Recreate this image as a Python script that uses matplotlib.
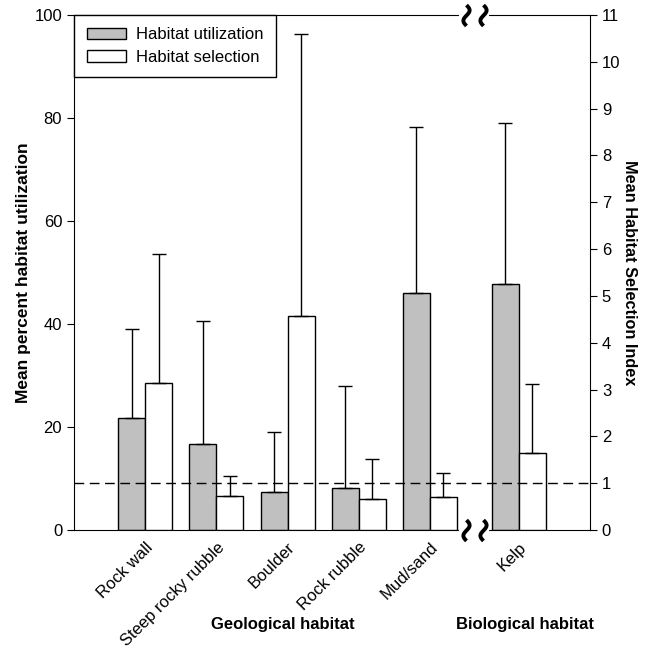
import numpy as np
import matplotlib
matplotlib.use("Agg")
import matplotlib.pyplot as plt
import matplotlib.transforms as mtransforms
from matplotlib.path import Path

plt.rcParams["font.family"] = ["Liberation Sans", "DejaVu Sans"]

categories = ["Rock wall", "Steep rocky rubble", "Boulder", "Rock rubble", "Mud/sand", "Kelp"]
positions = [0, 1, 2, 3, 4, 5.25]          # kelp sits past the axis break
util_mean = [21.7, 16.6, 7.3, 8.2, 46.1, 47.7]
util_err = [17.3, 24.0, 11.7, 19.7, 32.1, 31.3]
sel_mean = [3.15, 0.73, 4.57, 0.66, 0.71, 1.65]
sel_err = [2.75, 0.42, 6.02, 0.86, 0.50, 1.46]

GRAY = "#c0c0c0"
W = 0.38

fig = plt.figure(figsize=(6.47, 6.51), dpi=100)
ax = fig.add_axes([0.1144, 0.1859, 0.7976, 0.7911])
ax2 = ax.twinx()

x = np.array(positions)
ekw = dict(ecolor="black", elinewidth=1.0, capthick=1.0)
ax.bar(x - W / 2, util_mean, W, color=GRAY, edgecolor="black", lw=1.0,
       yerr=[np.zeros(len(x)), util_err], capsize=5, error_kw=ekw, label="Habitat utilization")
ax2.bar(x + W / 2, sel_mean, W, color="white", edgecolor="black", lw=1.0,
        yerr=[np.zeros(len(x)), sel_err], capsize=5, error_kw=ekw, label="Habitat selection")
ax2.axhline(1, color="black", lw=1.0, ls=(0, (7, 4)), zorder=4)

ax.set_xlim(-1, 6.25)
ax.set_ylim(0, 100)
ax2.set_ylim(0, 11)
ax.set_yticks(range(0, 101, 20))
ax2.set_yticks(range(0, 12))
ax.set_xticks(positions)
ax.set_xticklabels(categories, rotation=45, ha="right", va="top", rotation_mode="anchor", fontsize=12)
ax.tick_params(axis="x", length=0, pad=7)
ax.tick_params(axis="y", labelsize=12, direction="out", length=5)
ax2.tick_params(axis="y", labelsize=12, direction="out", length=5)

for s in ("top", "bottom", "left"):
    ax2.spines[s].set_visible(False)
ax.spines["right"].set_visible(False)

ax.set_ylabel("Mean percent habitat utilization", fontsize=12.5, fontweight="bold", labelpad=2.5)
ax2.set_ylabel("Mean Habitat Selection Index", fontsize=11.7, fontweight="bold", rotation=270, labelpad=12)

# axis break marks on the top and bottom spines
trans = mtransforms.blended_transform_factory(ax.transData, ax.transAxes)
t = np.linspace(-1, 1, 30)
squig = Path(np.column_stack([0.3 * np.sin(np.pi * t), t]))
for yy in (0, 1):
    ax.plot([4.44, 4.80], [yy, yy], color="white", lw=3, transform=trans, clip_on=False, zorder=5)
    ax.plot([4.50, 4.74], [yy, yy], ls="none", marker=squig, ms=15, mew=2.8, mec="black",
            mfc="none", transform=trans, clip_on=False, zorder=6)

h1, l1 = ax.get_legend_handles_labels()
h2, l2 = ax2.get_legend_handles_labels()
leg = ax2.legend(h1 + h2, l1 + l2, loc="upper left", fontsize=12, fancybox=False,
                 framealpha=1, edgecolor="black", borderaxespad=0, handlelength=2.35,
                 handleheight=0.7, labelspacing=0.45, borderpad=0.75, handletextpad=0.6)
leg.get_frame().set_linewidth(1.0)

fig.text(0.437, 0.040, "Geological habitat", ha="center", va="center", fontsize=12, fontweight="bold")
fig.text(0.811, 0.040, "Biological habitat", ha="center", va="center", fontsize=12, fontweight="bold")

fig.savefig("out.png", dpi=100)
